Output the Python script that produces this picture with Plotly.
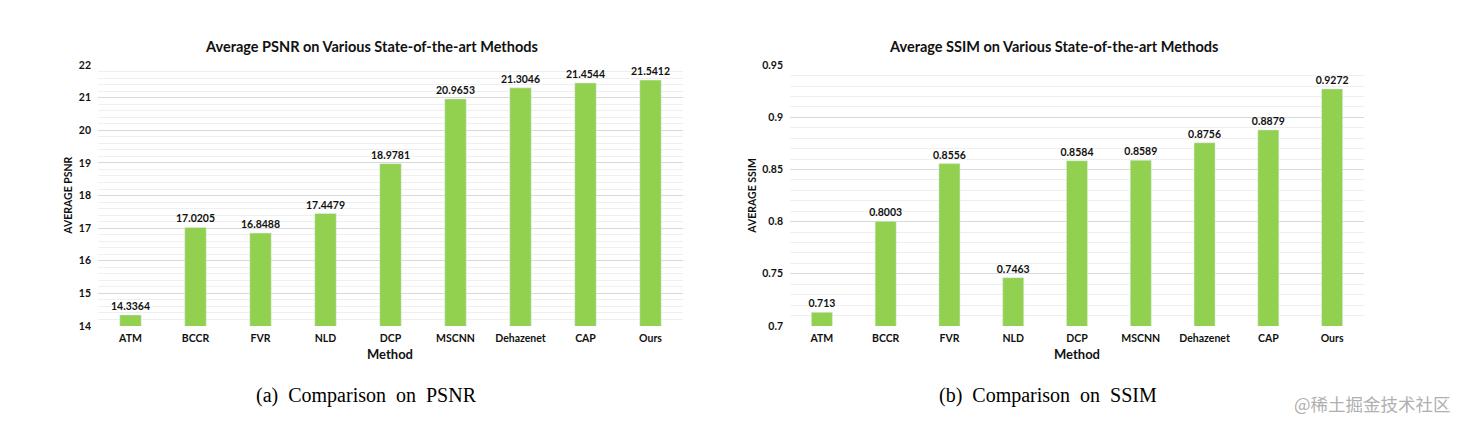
import plotly.graph_objects as go

methods = ["ATM", "BCCR", "FVR", "NLD", "DCP", "MSCNN", "Dehazenet", "CAP", "Ours"]
psnr = [14.3364, 17.0205, 16.8488, 17.4479, 18.9781, 20.9653, 21.3046, 21.4544, 21.5412]
ssim = [0.713, 0.8003, 0.8556, 0.7463, 0.8584, 0.8589, 0.8756, 0.8879, 0.9272]
psnr_ticks = [14, 15, 16, 17, 18, 19, 20, 21, 22]
ssim_ticks = [0.7, 0.75, 0.8, 0.85, 0.9, 0.95]
ssim_tick_text = ["0.7", "0.75", "0.8", "0.85", "0.9", "0.95"]

W, H = 1467, 429
GREEN = "#92D050"
FONT = "Lato"


def px_x(v):
    return (v - 8) / W


def px_y(v):
    p = (v - 14.4) / 0.971
    return 1 - p / H


bold_val = dict(family=FONT, size=10.5, color="#111", weight="bold")

fig = go.Figure()
fig.add_trace(go.Bar(x=methods, y=psnr, marker_color=GREEN, width=0.33,
                     text=[str(v) for v in psnr], textposition="outside",
                     constraintext="none", textfont=bold_val,
                     cliponaxis=False, xaxis="x", yaxis="y"))
fig.add_trace(go.Bar(x=methods, y=ssim, marker_color=GREEN, width=0.33,
                     text=[str(v) for v in ssim], textposition="outside",
                     constraintext="none", textfont=bold_val,
                     cliponaxis=False, xaxis="x2", yaxis="y2"))

ydom = [px_y(326), px_y(65.5)]
common_x = dict(showgrid=False, showline=False, ticks="", zeroline=False,
                ticklabelstandoff=5,
                tickfont=dict(family=FONT, size=10.5, color="#111", weight="bold"),
                fixedrange=True)
common_y = dict(showgrid=True, gridcolor="#d9d9d9", gridwidth=1, zeroline=False,
                showline=False, ticks="", ticklabelstandoff=6,
                tickfont=dict(family=FONT, size=10.5, color="#111", weight="bold"),
                domain=ydom)

fig.update_layout(
    width=W, height=H,
    margin=dict(l=0, r=0, t=0, b=0),
    paper_bgcolor="white", plot_bgcolor="white",
    showlegend=False,
    xaxis=dict(domain=[px_x(98), px_x(683)], anchor="y", **common_x),
    yaxis=dict(range=[14, 22], tickvals=psnr_ticks, anchor="x",
               minor=dict(dtick=0.2, showgrid=True, gridcolor="#efefef"), **common_y),
    xaxis2=dict(domain=[px_x(790), px_x(1364)], anchor="y2", **common_x),
    yaxis2=dict(range=[0.7, 0.95], tickvals=ssim_ticks, ticktext=ssim_tick_text, anchor="x2",
                minor=dict(dtick=0.01, showgrid=True, gridcolor="#efefef"), **common_y),
)

ann = []
def add(text, x, y, size, bold=True, family=FONT, color="#111", angle=0):
    f = dict(family=family, size=size, color=color)
    if bold:
        f["weight"] = "bold"
    ann.append(dict(text=text, x=px_x(x), y=px_y(y),
                    xref="paper", yref="paper", showarrow=False, textangle=angle,
                    xanchor="center", yanchor="middle", font=f))

add("Average PSNR on Various State-of-the-art Methods", 371, 47, 14.5)
add("Average SSIM on Various State-of-the-art Methods", 1053, 47, 14.5)
add("AVERAGE PSNR", 68, 196, 10.5, angle=-90)
add("AVERAGE SSIM", 752, 196, 10.5, angle=-90)
add("Method", 390, 354, 13)
add("Method", 1077, 354, 13)
add("(a)  Comparison  on  PSNR", 366, 395, 20, bold=False, family="Liberation Serif", color="#000")
add("(b)  Comparison  on  SSIM", 1048, 395, 20, bold=False, family="Liberation Serif", color="#000")
add("@稀土掘金技术社区", 1372, 403, 17.5, bold=False, family="Noto Sans CJK SC", color="#b0b0b0")
fig.update_layout(annotations=ann)

fig.write_html("out.html")
